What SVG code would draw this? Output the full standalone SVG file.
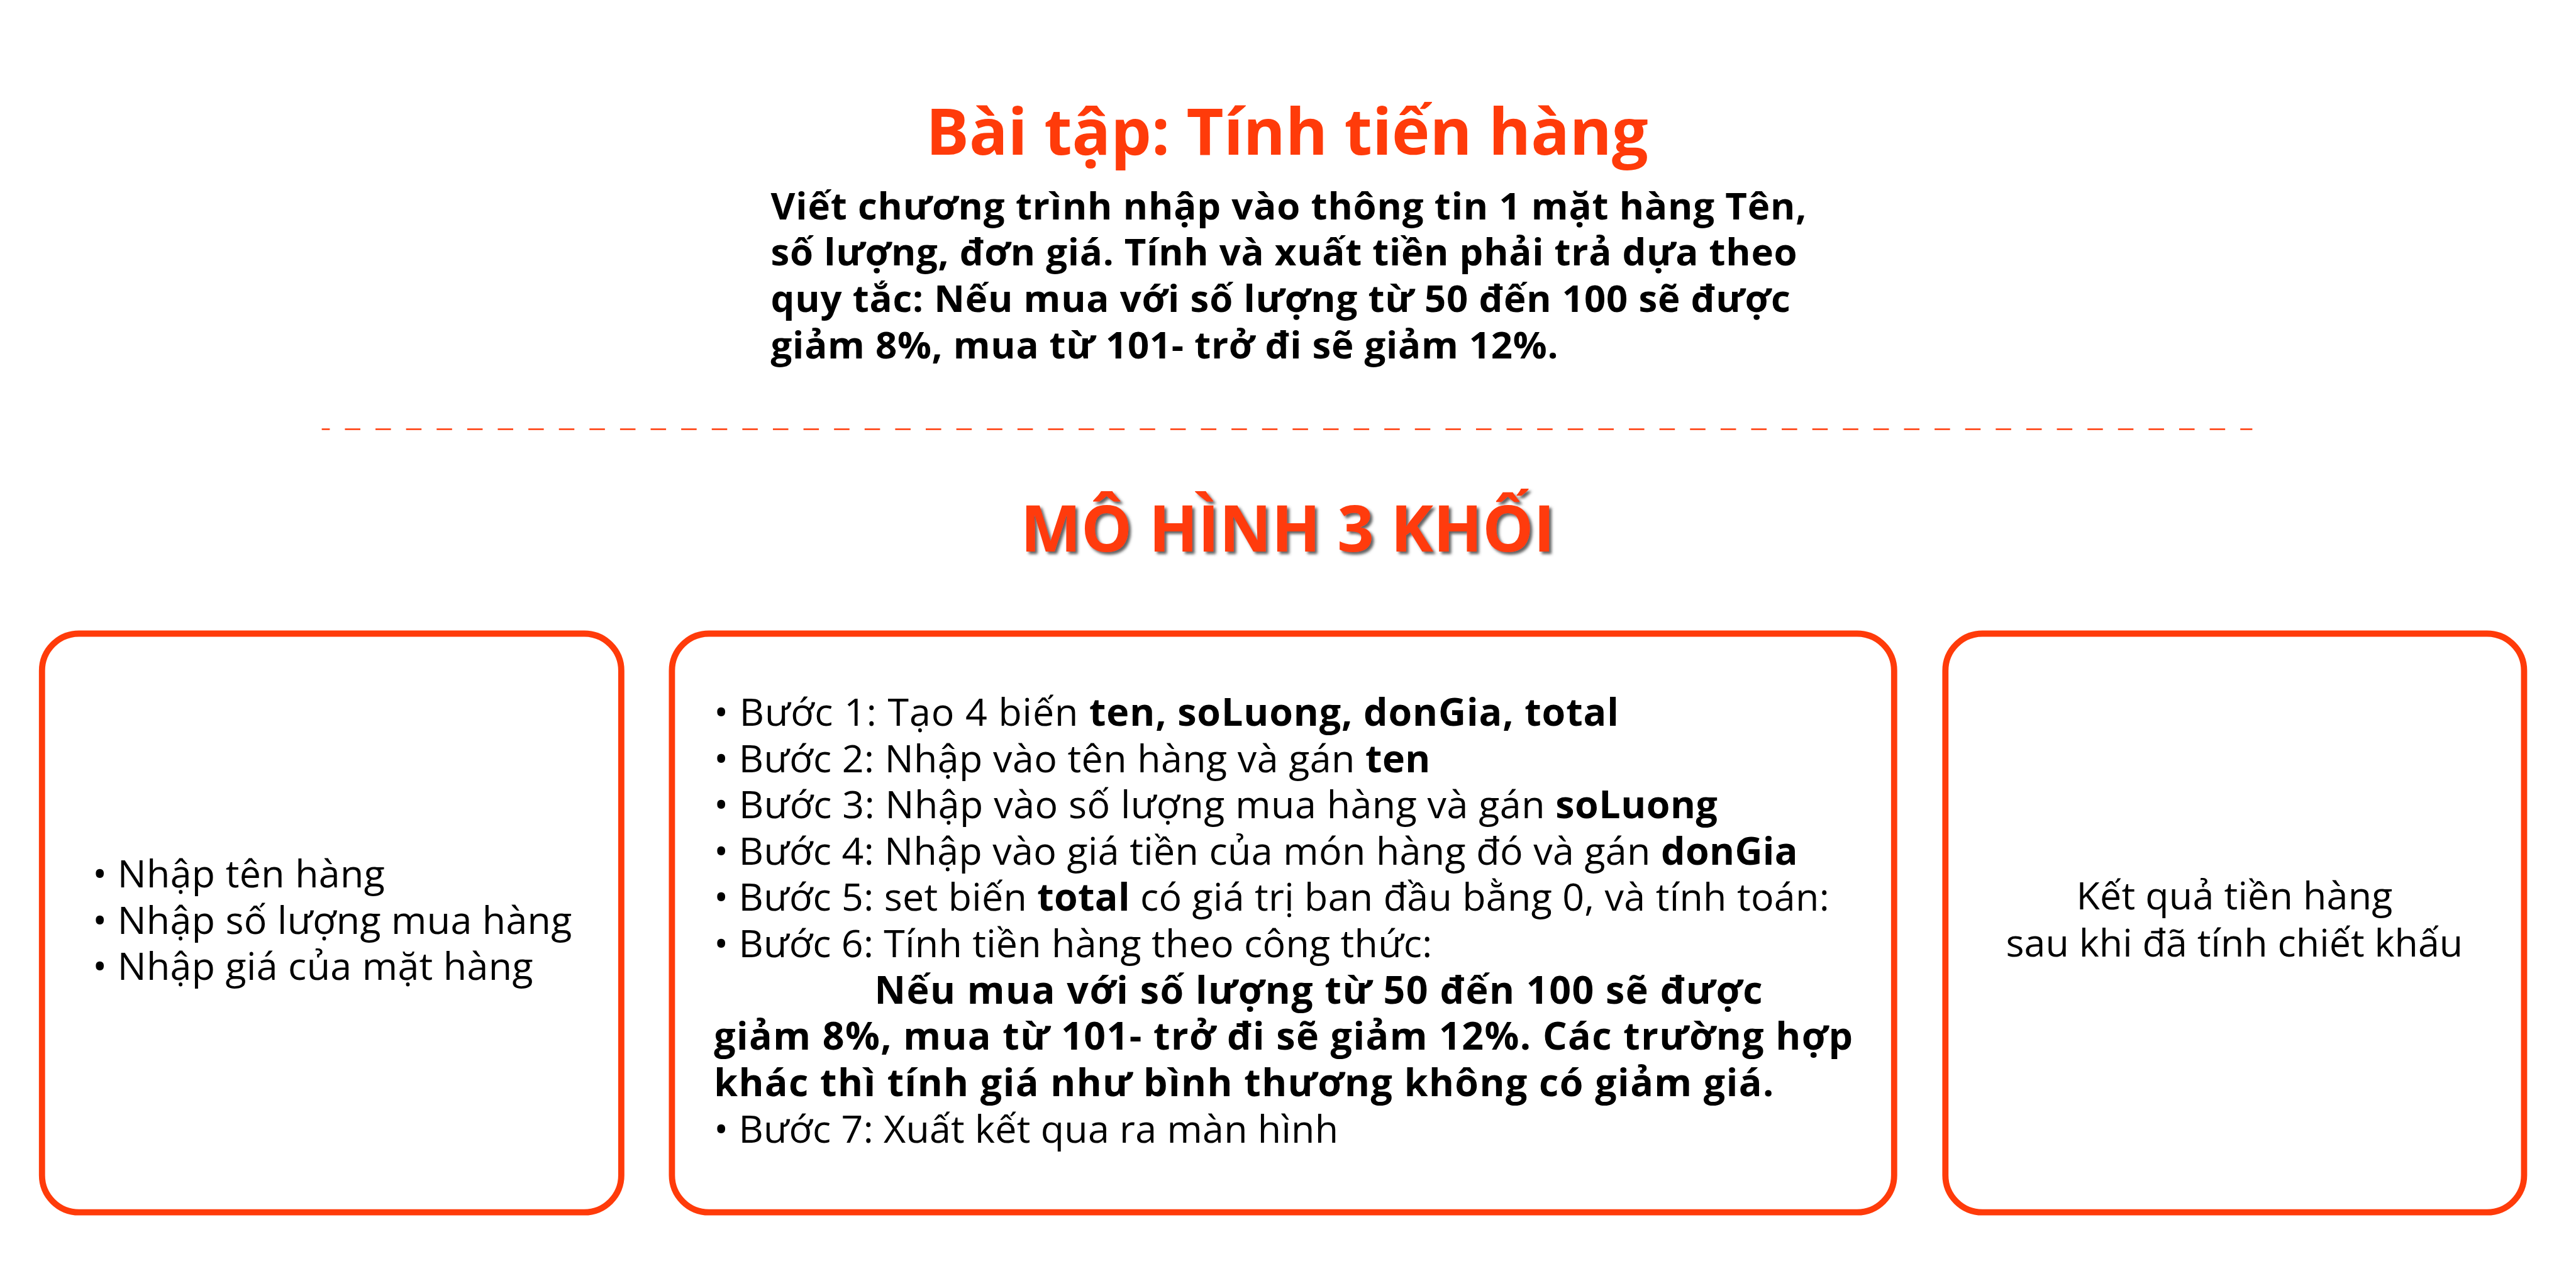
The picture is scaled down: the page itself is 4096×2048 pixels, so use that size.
<svg xmlns="http://www.w3.org/2000/svg" width="4096" height="2048" viewBox="0 0 4096 2048">
<style>
.t{font-family:"Open Sans","Noto Sans","Liberation Sans",sans-serif;}
.title{font-size:104px;font-weight:700;fill:#FF3B0A;text-anchor:middle;}
.para{font-size:61px;font-weight:700;fill:#000;}
.body{font-size:62px;font-weight:400;fill:#000;}
.b{font-weight:700;}
.box{fill:#fff;stroke:#FF3B0A;stroke-width:10;}
</style>
<defs>
<filter id="sh" x="-5%" y="-20%" width="110%" height="140%">
<feDropShadow dx="4" dy="4" stdDeviation="2" flood-color="#444" flood-opacity="0.85"/>
</filter>
</defs>
<rect width="4096" height="2048" fill="#fff"/>
<g transform="scale(0.982)">
<g id="header">
<text class="t title" x="2084" y="250">Bài tập: Tính tiến hàng</text>
<text class="t para" x="1248" y="355" textLength="1677" lengthAdjust="spacing">Viết chương trình nhập vào thông tin 1 mặt hàng Tên,</text>
<text class="t para" x="1248" y="430" textLength="1662" lengthAdjust="spacing">số lượng, đơn giá. Tính và xuất tiền phải trả dựa theo</text>
<text class="t para" x="1248" y="505" textLength="1651" lengthAdjust="spacing">quy tắc: Nếu mua với số lượng từ 50 đến 100 sẽ được</text>
<text class="t para" x="1248" y="580" textLength="1275" lengthAdjust="spacing">giảm 8%, mua từ 101- trở đi sẽ giảm 12%.</text>
<line x1="521" y1="695" x2="3647" y2="695" stroke="#FF3B0A" stroke-width="2.5" stroke-dasharray="25 24.5" stroke-dashoffset="12"/>
<text class="t title" x="2085" y="893" filter="url(#sh)">MÔ HÌNH 3 KHỐI</text>
</g>
<g id="connectors"></g>
<g id="input">
<rect class="box" x="68" y="1026" width="938" height="937" rx="60"/>
<text class="t body" x="150" y="1437" textLength="473" lengthAdjust="spacing">• Nhập tên hàng</text>
<text class="t body" x="150" y="1512" textLength="776" lengthAdjust="spacing">• Nhập số lượng mua hàng</text>
<text class="t body" x="150" y="1587" textLength="713" lengthAdjust="spacing">• Nhập giá của mặt hàng</text>
</g>
<g id="process">
<rect class="box" x="1088" y="1026" width="1979" height="937" rx="60"/>
<text class="t body" x="1156" y="1175" textLength="1465" lengthAdjust="spacing">• Bước 1: Tạo 4 biến <tspan class="b">ten, soLuong, donGia, total</tspan></text>
<text class="t body" x="1156" y="1250" textLength="1160" lengthAdjust="spacing">• Bước 2: Nhập vào tên hàng và gán <tspan class="b">ten</tspan></text>
<text class="t body" x="1156" y="1325" textLength="1625" lengthAdjust="spacing">• Bước 3: Nhập vào số lượng mua hàng và gán <tspan class="b">soLuong</tspan></text>
<text class="t body" x="1156" y="1400" textLength="1755" lengthAdjust="spacing">• Bước 4: Nhập vào giá tiền của món hàng đó và gán <tspan class="b">donGia</tspan></text>
<text class="t body" x="1156" y="1475" textLength="1806" lengthAdjust="spacing">• Bước 5: set biến <tspan class="b">total</tspan> có giá trị ban đầu bằng 0, và tính toán:</text>
<text class="t body" x="1156" y="1550" textLength="1163" lengthAdjust="spacing">• Bước 6: Tính tiền hàng theo công thức:</text>
<text class="t body b" x="1416" y="1625" textLength="1438" lengthAdjust="spacing">Nếu mua với số lượng từ 50 đến 100 sẽ được</text>
<text class="t body b" x="1156" y="1700" textLength="1844" lengthAdjust="spacing">giảm 8%, mua từ 101- trở đi sẽ giảm 12%. Các trường hợp</text>
<text class="t body b" x="1156" y="1775" textLength="1716" lengthAdjust="spacing">khác thì tính giá như bình thương không có giảm giá.</text>
<text class="t body" x="1156" y="1850" textLength="1011" lengthAdjust="spacing">• Bước 7: Xuất kết qua ra màn hình</text>
</g>
<g id="output">
<rect class="box" x="3150" y="1026" width="937" height="937" rx="60"/>
<text class="t body" x="3618" y="1473" text-anchor="middle" textLength="512" lengthAdjust="spacing">Kết quả tiền hàng</text>
<text class="t body" x="3618" y="1549" text-anchor="middle" textLength="740" lengthAdjust="spacing">sau khi đã tính chiết khấu</text>
</g>
</g>
</svg>
